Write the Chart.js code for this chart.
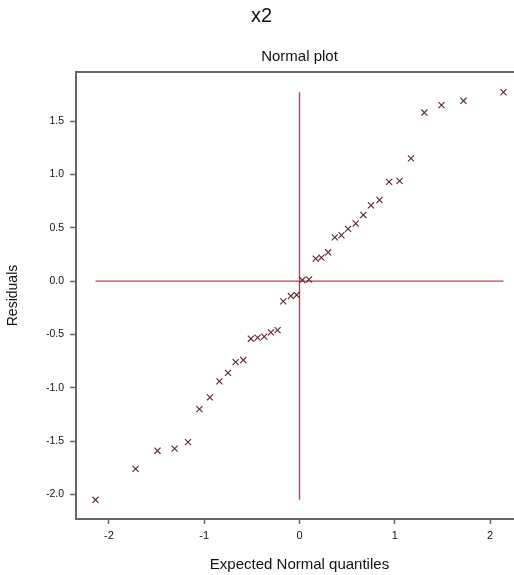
<!DOCTYPE html>
<html>
<head>
<meta charset="utf-8">
<script src="https://cdn.jsdelivr.net/npm/chart.js@4/dist/chart.umd.min.js"></script>
<style>
  html, body { margin: 0; padding: 0; background: #ffffff; overflow: hidden; width: 514px; height: 575px; }
  canvas { display: block; }
</style>
</head>
<body>
<canvas id="c" width="560" height="575" style="width:560px;height:575px"></canvas>
<script>
// Expected normal quantiles (x) and residuals (y)
const quantiles = [-2.14, -1.72, -1.49, -1.31, -1.17, -1.05, -0.94, -0.84, -0.75, -0.67,
                   -0.59, -0.51, -0.44, -0.37, -0.30, -0.23, -0.17, -0.09, -0.03,
                    0.03,  0.10,  0.17,  0.23,  0.30,  0.37,  0.44,  0.51,  0.59,  0.67,
                    0.75,  0.84,  0.94,  1.05,  1.17,  1.31,  1.49,  1.72,  2.14];
const residuals = [-2.05, -1.76, -1.59, -1.57, -1.51, -1.20, -1.09, -0.94, -0.86, -0.76,
                   -0.74, -0.54, -0.53, -0.52, -0.48, -0.46, -0.19, -0.14, -0.13,
                    0.01,  0.015, 0.21,  0.22,  0.27,  0.41,  0.43,  0.49,  0.54,  0.62,
                    0.71,  0.76,  0.93,  0.94,  1.15,  1.58,  1.65,  1.69,  1.77];
const xTicks = [-2, -1, 0, 1, 2];
const yTicks = [-2.0, -1.5, -1.0, -0.5, 0.0, 0.5, 1.0, 1.5];
const chartTitle = 'x2';
const chartSubtitle = 'Normal plot';
const xTitle = 'Expected Normal quantiles';
const yTitle = 'Residuals';

const points = quantiles.map((q, i) => ({ x: q, y: residuals[i] }));
const qMin = Math.min(...quantiles), qMax = Math.max(...quantiles);
const rMin = Math.min(...residuals), rMax = Math.max(...residuals);

const FONT = "'Liberation Sans', Arial, sans-serif";
const AXIS = '#666666';
const RED = '#d0394d';

const frame = {
  id: 'frame',
  afterDatasetsDraw(chart) {
    const { ctx, chartArea: a } = chart;
    ctx.save();
    ctx.strokeStyle = AXIS;
    ctx.lineWidth = 2;
    ctx.beginPath();
    ctx.moveTo(a.left - 1, a.top);
    ctx.lineTo(a.right, a.top);
    ctx.lineTo(a.right, a.bottom);
    ctx.stroke();
    ctx.restore();
  }
};

new Chart(document.getElementById('c'), {
  type: 'scatter',
  data: {
    datasets: [
      {
        label: 'residuals',
        data: points,
        pointStyle: 'crossRot',
        pointRadius: 4.3,
        pointBorderWidth: 1.1,
        borderColor: '#5a2833',
        backgroundColor: '#5a2833',
        order: 0
      },
      {
        type: 'line',
        label: 'hline',
        data: [{ x: qMin, y: 0 }, { x: qMax, y: 0 }],
        borderColor: RED,
        borderWidth: 1.4,
        pointRadius: 0,
        order: 1
      },
      {
        type: 'line',
        label: 'vline',
        data: [{ x: 0, y: rMin }, { x: 0, y: rMax }],
        borderColor: RED,
        borderWidth: 1.4,
        pointRadius: 0,
        order: 1
      }
    ]
  },
  options: {
    responsive: false,
    animation: false,
    events: [],
    layout: { padding: { left: 0, right: 37, top: 0, bottom: 0 } },
    plugins: {
      legend: { display: false },
      tooltip: { enabled: false },
      title: {
        display: true,
        text: chartTitle,
        color: '#111',
        font: { family: FONT, size: 20, weight: 'normal', lineHeight: 1.2 },
        padding: { top: 4, bottom: 10 }
      },
      subtitle: {
        display: true,
        text: chartSubtitle,
        fullSize: false,
        color: '#111',
        font: { family: FONT, size: 15, weight: 'normal', lineHeight: 1.2 },
        padding: { top: 10, bottom: 6 }
      }
    },
    scales: {
      x: {
        type: 'linear',
        position: 'bottom',
        min: -2.345,
        max: 2.345,
        afterBuildTicks: s => { s.ticks = xTicks.map(v => ({ value: v })); },
        afterFit: s => { s.height = 56; },
        ticks: {
          color: '#111',
          font: { family: FONT, size: 11 },
          padding: 5,
          maxRotation: 0,
          callback: v => String(v)
        },
        grid: {
          drawOnChartArea: false,
          drawTicks: true,
          tickLength: 5,
          tickColor: AXIS,
          tickWidth: 1.5
        },
        border: { display: true, color: AXIS, width: 2 },
        title: {
          display: true,
          text: xTitle,
          color: '#111',
          font: { family: FONT, size: 15 },
          padding: { top: 0, bottom: 1 }
        }
      },
      y: {
        type: 'linear',
        position: 'left',
        min: -2.23,
        max: 1.96,
        afterBuildTicks: s => { s.ticks = yTicks.map(v => ({ value: v })); },
        afterFit: s => { s.width = 76; },
        ticks: {
          color: '#111',
          font: { family: FONT, size: 10.5 },
          padding: 6,
          callback: v => Number(v).toFixed(1)
        },
        grid: {
          drawOnChartArea: false,
          drawTicks: true,
          tickLength: 6,
          tickColor: AXIS,
          tickWidth: 1.5
        },
        border: { display: true, color: AXIS, width: 2 },
        title: {
          display: true,
          text: yTitle,
          color: '#111',
          font: { family: FONT, size: 14 },
          padding: { top: 5, bottom: 0 }
        }
      }
    }
  },
  plugins: [frame]
});
</script>
</body>
</html>
